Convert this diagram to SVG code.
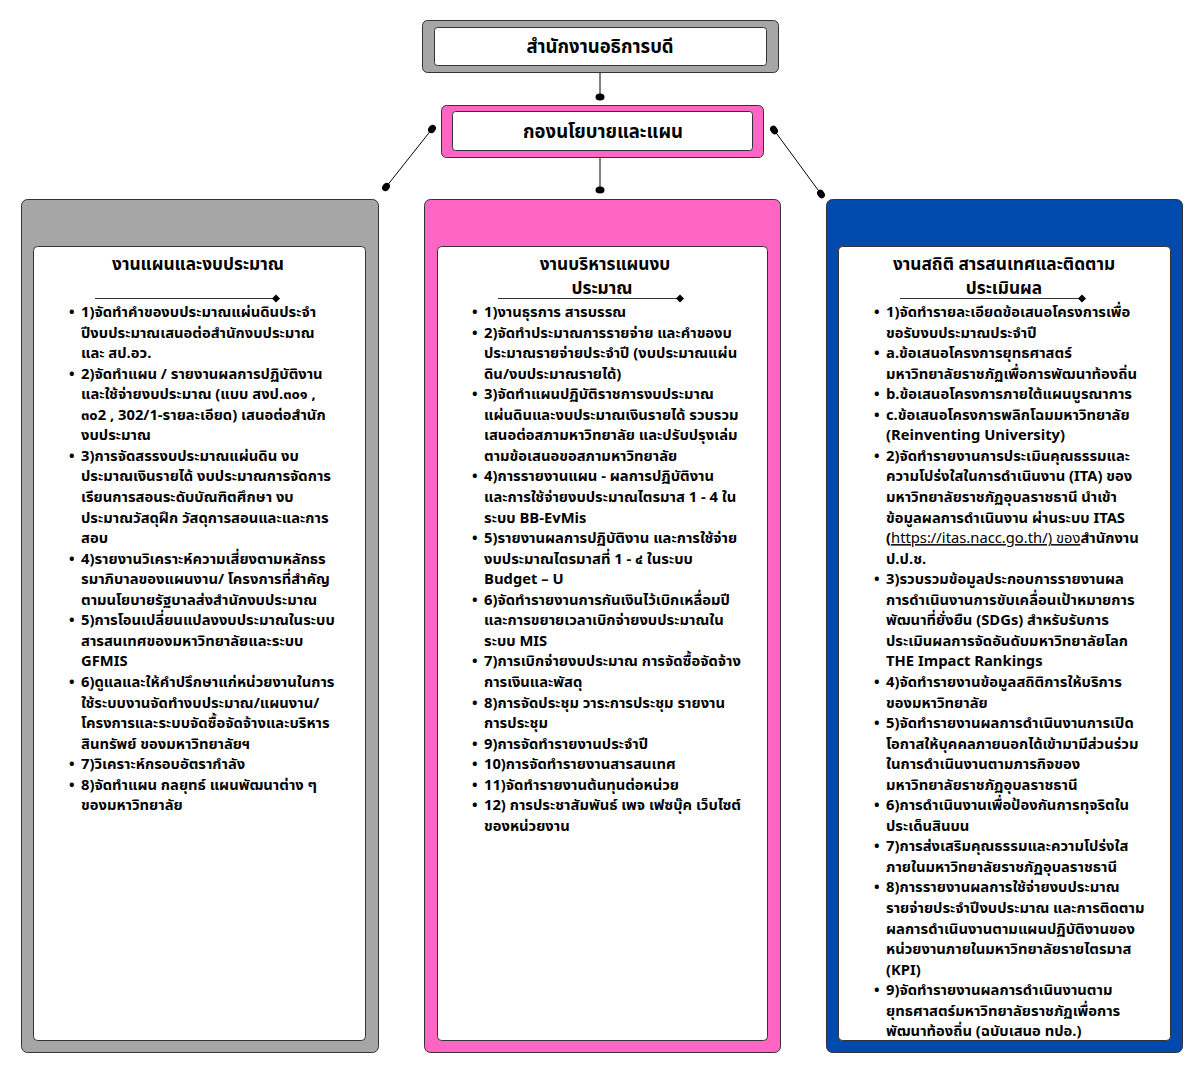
<svg xmlns="http://www.w3.org/2000/svg" width="1198" height="1080" viewBox="0 0 1198 1080">
<style>
.t{font-family:"Noto Sans Thai","Noto Sans","DejaVu Sans",sans-serif;font-weight:700;fill:#000}
.b{font-size:14.75px}
.h{font-size:17.3px;text-anchor:middle}
.top{font-size:18.5px;text-anchor:middle}
.o{stroke:#333;stroke-width:1}
.w{fill:#fff;stroke:#333;stroke-width:1}
.ln{stroke:#000;stroke-width:1;fill:none}
.ul{stroke:#333;stroke-width:1;fill:none;marker-end:url(#dm)}
.u{font-weight:400;text-decoration:underline}
</style>
<defs>
<marker id="dm" viewBox="-5 -5 10 10" markerWidth="10" markerHeight="10" refX="0" refY="0" orient="auto" markerUnits="userSpaceOnUse">
<polygon points="-4,0 0,-4 4,0 0,4" fill="#000"/>
</marker>
</defs>

<g id="connectors">
<line class="ln" x1="600" y1="72" x2="600" y2="97"/>
<ellipse cx="600" cy="97" rx="4.5" ry="3.5"/>
<line class="ln" x1="600" y1="158" x2="600" y2="190"/>
<ellipse cx="600" cy="190" rx="4.5" ry="3.5"/>
<line class="ln" x1="432" y1="129" x2="386" y2="187"/>
<ellipse cx="432" cy="129" rx="4.5" ry="3.5" transform="rotate(-52 432 129)"/>
<ellipse cx="386" cy="187" rx="4.5" ry="3.5" transform="rotate(-52 386 187)"/>
<line class="ln" x1="774" y1="130" x2="821" y2="194"/>
<ellipse cx="774" cy="130" rx="4.5" ry="3.5" transform="rotate(54 774 130)"/>
<ellipse cx="821" cy="194" rx="4.5" ry="3.5" transform="rotate(54 821 194)"/>
</g>

<g id="node-office">
<rect class="o" x="422.5" y="20.5" width="356" height="52" rx="5" fill="#a6a6a6"/>
<rect class="w" x="434.5" y="27.5" width="332" height="38" rx="3"/>
<text class="t top" x="600" y="53">สำนักงานอธิการบดี</text>
</g>

<g id="node-policy">
<rect class="o" x="441.5" y="105.5" width="322" height="52" rx="5" fill="#ff66c4"/>
<rect class="w" x="452.5" y="111.5" width="300" height="39" rx="3"/>
<text class="t top" x="603" y="137.5">กองนโยบายและแผน</text>
</g>

<g id="node-budget">
<rect class="o" x="21.5" y="199.5" width="357" height="853" rx="6" fill="#a6a6a6"/>
<rect class="w" x="33.5" y="246.5" width="332" height="794" rx="4"/>
<text class="t h" x="198" y="269.5">งานแผนและงบประมาณ</text>
<line class="ul" x1="95" y1="298.5" x2="276" y2="298.5"/>
<g class="t b">
<text x="69" y="317">•</text><text x="81" y="317">1)จัดทำคำของบประมาณแผ่นดินประจำ</text>
<text x="81" y="337.6">ปีงบประมาณเสนอต่อสำนักงบประมาณ</text>
<text x="81" y="358.1">และ สป.อว.</text>
<text x="69" y="378.7">•</text><text x="81" y="378.7">2)จัดทำแผน / รายงานผลการปฏิบัติงาน</text>
<text x="81" y="399.2">และใช้จ่ายงบประมาณ (แบบ สงป.๓๐๑ ,</text>
<text x="81" y="419.8">๓๐2 , 302/1-รายละเอียด) เสนอต่อสำนัก</text>
<text x="81" y="440.3">งบประมาณ</text>
<text x="69" y="460.9">•</text><text x="81" y="460.9">3)การจัดสรรงบประมาณแผ่นดิน งบ</text>
<text x="81" y="481.4">ประมาณเงินรายได้ งบประมาณการจัดการ</text>
<text x="81" y="502">เรียนการสอนระดับบัณฑิตศึกษา งบ</text>
<text x="81" y="522.5">ประมาณวัสดุฝึก วัสดุการสอนและและการ</text>
<text x="81" y="543.1">สอบ</text>
<text x="69" y="563.6">•</text><text x="81" y="563.6">4)รายงานวิเคราะห์ความเสี่ยงตามหลักธร</text>
<text x="81" y="584.2">รมาภิบาลของแผนงาน/ โครงการที่สำคัญ</text>
<text x="81" y="604.7">ตามนโยบายรัฐบาลส่งสำนักงบประมาณ</text>
<text x="69" y="625.3">•</text><text x="81" y="625.3">5)การโอนเปลี่ยนแปลงงบประมาณในระบบ</text>
<text x="81" y="645.8">สารสนเทศของมหาวิทยาลัยและระบบ</text>
<text x="81" y="666.4">GFMIS</text>
<text x="69" y="686.9">•</text><text x="81" y="686.9">6)ดูแลและให้คำปรึกษาแก่หน่วยงานในการ</text>
<text x="81" y="707.5">ใช้ระบบงานจัดทำงบประมาณ/แผนงาน/</text>
<text x="81" y="728">โครงการและระบบจัดซื้อจัดจ้างและบริหาร</text>
<text x="81" y="748.6">สินทรัพย์ ของมหาวิทยาลัยฯ</text>
<text x="69" y="769.1">•</text><text x="81" y="769.1">7)วิเคราะห์กรอบอัตรากำลัง</text>
<text x="69" y="789.7">•</text><text x="81" y="789.7">8)จัดทำแผน กลยุทธ์ แผนพัฒนาต่าง ๆ</text>
<text x="81" y="810.2">ของมหาวิทยาลัย</text>
</g>
</g>

<g id="node-admin">
<rect class="o" x="424.5" y="199.5" width="356" height="853" rx="6" fill="#ff66c4"/>
<rect class="w" x="437.5" y="246.5" width="330" height="794" rx="4"/>
<text class="t h" x="605" y="269.5">งานบริหารแผนงบ</text>
<text class="t h" x="602" y="293.5">ประมาณ</text>
<line class="ul" x1="498" y1="298.5" x2="680" y2="298.5"/>
<g class="t b">
<text x="472" y="317">•</text><text x="484" y="317">1)งานธุรการ สารบรรณ</text>
<text x="472" y="337.6">•</text><text x="484" y="337.6">2)จัดทำประมาณการรายจ่าย และคำของบ</text>
<text x="484" y="358.1">ประมาณรายจ่ายประจำปี (งบประมาณแผ่น</text>
<text x="484" y="378.7">ดิน/งบประมาณรายได้)</text>
<text x="472" y="399.2">•</text><text x="484" y="399.2">3)จัดทำแผนปฏิบัติราชการงบประมาณ</text>
<text x="484" y="419.8">แผ่นดินและงบประมาณเงินรายได้ รวบรวม</text>
<text x="484" y="440.3">เสนอต่อสภามหาวิทยาลัย และปรับปรุงเล่ม</text>
<text x="484" y="460.9">ตามข้อเสนอขอสภามหาวิทยาลัย</text>
<text x="472" y="481.4">•</text><text x="484" y="481.4">4)การรายงานแผน - ผลการปฏิบัติงาน</text>
<text x="484" y="502">และการใช้จ่ายงบประมาณไตรมาส 1 - 4 ใน</text>
<text x="484" y="522.5">ระบบ BB-EvMis</text>
<text x="472" y="543.1">•</text><text x="484" y="543.1">5)รายงานผลการปฏิบัติงาน และการใช้จ่าย</text>
<text x="484" y="563.6">งบประมาณไตรมาสที่ 1 - ๔ ในระบบ</text>
<text x="484" y="584.2">Budget – U</text>
<text x="472" y="604.7">•</text><text x="484" y="604.7">6)จัดทำรายงานการกันเงินไว้เบิกเหลื่อมปี</text>
<text x="484" y="625.3">และการขยายเวลาเบิกจ่ายงบประมาณใน</text>
<text x="484" y="645.8">ระบบ MIS</text>
<text x="472" y="666.4">•</text><text x="484" y="666.4">7)การเบิกจ่ายงบประมาณ การจัดซื้อจัดจ้าง</text>
<text x="484" y="686.9">การเงินและพัสดุ</text>
<text x="472" y="707.5">•</text><text x="484" y="707.5">8)การจัดประชุม วาระการประชุม รายงาน</text>
<text x="484" y="728">การประชุม</text>
<text x="472" y="748.6">•</text><text x="484" y="748.6">9)การจัดทำรายงานประจำปี</text>
<text x="472" y="769.1">•</text><text x="484" y="769.1">10)การจัดทำรายงานสารสนเทศ</text>
<text x="472" y="789.7">•</text><text x="484" y="789.7">11)จัดทำรายงานต้นทุนต่อหน่วย</text>
<text x="472" y="810.2">•</text><text x="484" y="810.2">12) การประชาสัมพันธ์ เพจ เฟซบุ๊ค เว็บไซต์</text>
<text x="484" y="830.8">ของหน่วยงาน</text>
</g>
</g>

<g id="node-stats">
<rect class="o" x="826.5" y="199.5" width="356" height="853" rx="6" fill="#004aad"/>
<rect class="w" x="838.5" y="246.5" width="332" height="794" rx="4"/>
<text class="t h" x="1004" y="269.5">งานสถิติ สารสนเทศและติดตาม</text>
<text class="t h" x="1004" y="293.5">ประเมินผล</text>
<line class="ul" x1="900" y1="298.5" x2="1082" y2="298.5"/>
<g class="t b">
<text x="874" y="317">•</text><text x="886" y="317">1)จัดทำรายละเอียดข้อเสนอโครงการเพื่อ</text>
<text x="886" y="337.6">ขอรับงบประมาณประจำปี</text>
<text x="874" y="358.1">•</text><text x="886" y="358.1">a.ข้อเสนอโครงการยุทธศาสตร์</text>
<text x="886" y="378.7">มหาวิทยาลัยราชภัฏเพื่อการพัฒนาท้องถิ่น</text>
<text x="874" y="399.2">•</text><text x="886" y="399.2">b.ข้อเสนอโครงการภายใต้แผนบูรณาการ</text>
<text x="874" y="419.8">•</text><text x="886" y="419.8">c.ข้อเสนอโครงการพลิกโฉมมหาวิทยาลัย</text>
<text x="886" y="440.3">(Reinventing University)</text>
<text x="874" y="460.9">•</text><text x="886" y="460.9">2)จัดทำรายงานการประเมินคุณธรรมและ</text>
<text x="886" y="481.4">ความโปร่งใสในการดำเนินงาน (ITA) ของ</text>
<text x="886" y="502">มหาวิทยาลัยราชภัฏอุบลราชธานี นำเข้า</text>
<text x="886" y="522.5">ข้อมูลผลการดำเนินงาน ผ่านระบบ ITAS</text>
<text x="886" y="543.1">(<tspan class="u">https://itas.nacc.go.th/) ของ</tspan>สำนักงาน</text>
<text x="886" y="563.6">ป.ป.ช.</text>
<text x="874" y="584.2">•</text><text x="886" y="584.2">3)รวบรวมข้อมูลประกอบการรายงานผล</text>
<text x="886" y="604.7">การดำเนินงานการขับเคลื่อนเป้าหมายการ</text>
<text x="886" y="625.3">พัฒนาที่ยั่งยืน (SDGs) สำหรับรับการ</text>
<text x="886" y="645.8">ประเมินผลการจัดอันดับมหาวิทยาลัยโลก</text>
<text x="886" y="666.4">THE Impact Rankings</text>
<text x="874" y="686.9">•</text><text x="886" y="686.9">4)จัดทำรายงานข้อมูลสถิติการให้บริการ</text>
<text x="886" y="707.5">ของมหาวิทยาลัย</text>
<text x="874" y="728">•</text><text x="886" y="728">5)จัดทำรายงานผลการดำเนินงานการเปิด</text>
<text x="886" y="748.6">โอกาสให้บุคคลภายนอกได้เข้ามามีส่วนร่วม</text>
<text x="886" y="769.1">ในการดำเนินงานตามภารกิจของ</text>
<text x="886" y="789.7">มหาวิทยาลัยราชภัฏอุบลราชธานี</text>
<text x="874" y="810.2">•</text><text x="886" y="810.2">6)การดำเนินงานเพื่อป้องกันการทุจริตใน</text>
<text x="886" y="830.8">ประเด็นสินบน</text>
<text x="874" y="851.3">•</text><text x="886" y="851.3">7)การส่งเสริมคุณธรรมและความโปร่งใส</text>
<text x="886" y="871.9">ภายในมหาวิทยาลัยราชภัฏอุบลราชธานี</text>
<text x="874" y="892.4">•</text><text x="886" y="892.4">8)การรายงานผลการใช้จ่ายงบประมาณ</text>
<text x="886" y="913">รายจ่ายประจำปีงบประมาณ และการติดตาม</text>
<text x="886" y="933.5">ผลการดำเนินงานตามแผนปฏิบัติงานของ</text>
<text x="886" y="954.1">หน่วยงานภายในมหาวิทยาลัยรายไตรมาส</text>
<text x="886" y="974.6">(KPI)</text>
<text x="874" y="995.2">•</text><text x="886" y="995.2">9)จัดทำรายงานผลการดำเนินงานตาม</text>
<text x="886" y="1015.7">ยุทธศาสตร์มหาวิทยาลัยราชภัฏเพื่อการ</text>
<text x="886" y="1036.3">พัฒนาท้องถิ่น (ฉบับเสนอ ทปอ.)</text>
</g>
</g>
</svg>
